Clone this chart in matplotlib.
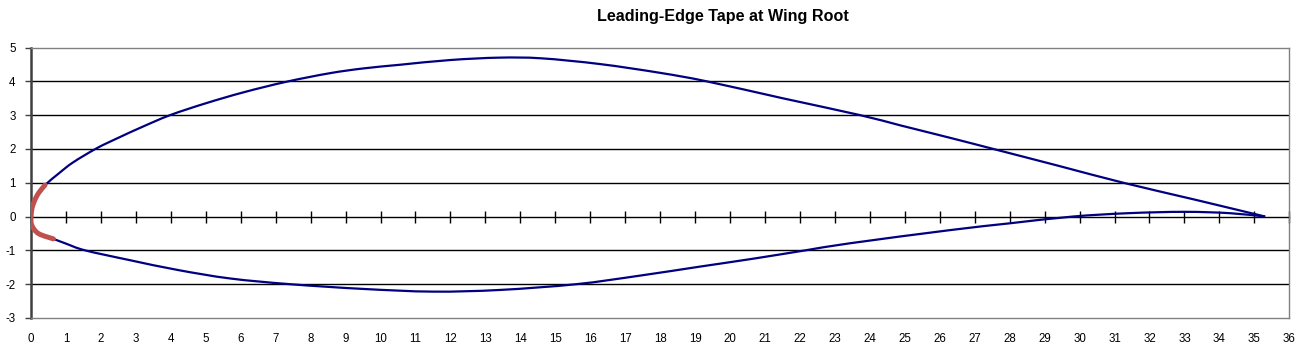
import matplotlib.pyplot as plt
from matplotlib.path import Path
from matplotlib.patches import PathPatch

# airfoil coordinates (inches)
upper_x = [0, 0.03, 0.11, 0.22, 0.40, 0.8, 1.2, 1.88, 2.5, 3.2, 3.98, 5.0, 6.1,
           7.32, 8.55, 9.5, 10.56, 12.0, 13.4, 14.6, 16.28, 18.0, 19.33, 21.5,
           23.72, 24.86, 26.29, 27.53, 29.4, 31.25, 33.3, 35.31]
upper_y = [0, 0.25, 0.49, 0.70, 0.93, 1.28, 1.60, 2.02, 2.33, 2.66, 3.0, 3.35, 3.68,
           3.99, 4.24, 4.38, 4.49, 4.63, 4.70, 4.68, 4.51, 4.25, 4.0, 3.50,
           3.0, 2.70, 2.33, 2.0, 1.50, 1.0, 0.50, 0]

lower_x = [0, 0.02, 0.21, 0.64, 1.0, 1.55, 2.83, 4.2, 5.69, 7.41, 9.5, 11.5,
           13.42, 15.6, 17.4, 19.14, 20.7, 22.15, 23.43, 26.3, 28.0, 29.8,
           31.4, 33.0, 34.3, 35.31]
lower_y = [0, -0.25, -0.50, -0.66, -0.80, -1.0, -1.29, -1.58, -1.83, -2.0, -2.14, -2.22,
           -2.17, -2.0, -1.75, -1.48, -1.24, -1.0, -0.79, -0.40, -0.20, 0.0,
           0.10, 0.14, 0.10, 0]

# leading-edge tape
tape_up_x = [0, 0.03, 0.11, 0.22, 0.40]
tape_up_y = [0, 0.25, 0.49, 0.70, 0.93]
tape_lo_x = [0, 0.02, 0.21, 0.64]
tape_lo_y = [0, -0.25, -0.50, -0.66]

x_ticks = list(range(0, 37))
y_ticks = list(range(-3, 6))

plt.rcParams['font.family'] = ['Liberation Sans', 'DejaVu Sans']
plt.rcParams['axes.unicode_minus'] = False


def smooth_line(ax, xs, ys, **kw):
    # excel-like smoothed line: catmull-rom segments drawn as bezier curves
    pts = list(zip(xs, ys))
    n = len(pts)
    verts = [pts[0]]
    codes = [Path.MOVETO]
    for i in range(n - 1):
        p0 = pts[i - 1] if i > 0 else pts[i]
        p1 = pts[i]
        p2 = pts[i + 1]
        p3 = pts[i + 2] if i + 2 < n else pts[i + 1]
        c1 = (p1[0] + (p2[0] - p0[0]) / 6, p1[1] + (p2[1] - p0[1]) / 6)
        c2 = (p2[0] - (p3[0] - p1[0]) / 6, p2[1] - (p3[1] - p1[1]) / 6)
        verts += [c1, c2, p2]
        codes += [Path.CURVE4] * 3
    ax.add_patch(PathPatch(Path(verts, codes), fill=False, **kw))


fig = plt.figure(figsize=(13.07, 3.53), dpi=100)
ax = fig.add_axes([31 / 1307, 1 - 318 / 353, (1289.3 - 31) / 1307, (318 - 47.5) / 353])

ax.set_xlim(0, 36)
ax.set_ylim(-3, 5)

# gridlines
for yv in y_ticks:
    if yv not in (-3, 0, 5):
        ax.axhline(yv, color="black", lw=1.0, zorder=1)

smooth_line(ax, upper_x, upper_y, edgecolor="#000080", lw=1.6, zorder=3)
smooth_line(ax, lower_x, lower_y, edgecolor="#000080", lw=1.6, zorder=3)
smooth_line(ax, tape_up_x, tape_up_y, edgecolor="#C0504D", lw=3.6, capstyle="round", zorder=4)
smooth_line(ax, tape_lo_x, tape_lo_y, edgecolor="#C0504D", lw=3.6, capstyle="round", zorder=4)

# x axis at y=0 with crossing ticks
sec = ax.secondary_xaxis(3 / 8)
sec.set_xticks(x_ticks)
sec.tick_params(axis="x", direction="inout", length=8, width=1, colors="black", labelbottom=False, labeltop=False)
sec.spines["bottom"].set_color("black")
sec.spines["top"].set_color("black")
sec.spines["bottom"].set_linewidth(1.0)
sec.spines["top"].set_linewidth(1.0)

ax.set_xticks(x_ticks)
ax.set_yticks(y_ticks)
ax.tick_params(axis="x", length=0, pad=11, labelsize=8.3)
ax.tick_params(axis="y", length=4, width=1, color="#404040", pad=7, labelsize=8.3)

for s in ["top", "right", "bottom"]:
    ax.spines[s].set_color("#808080")
    ax.spines[s].set_linewidth(1.0)
ax.spines["left"].set_color("#404040")
ax.spines["left"].set_linewidth(1.8)

fig.text(723 / 1307, 1 - 16 / 353, "Leading-Edge Tape at Wing Root", ha="center", va="center",
         fontsize=11.6, fontweight="bold")

fig.savefig("out.png", dpi=100)
